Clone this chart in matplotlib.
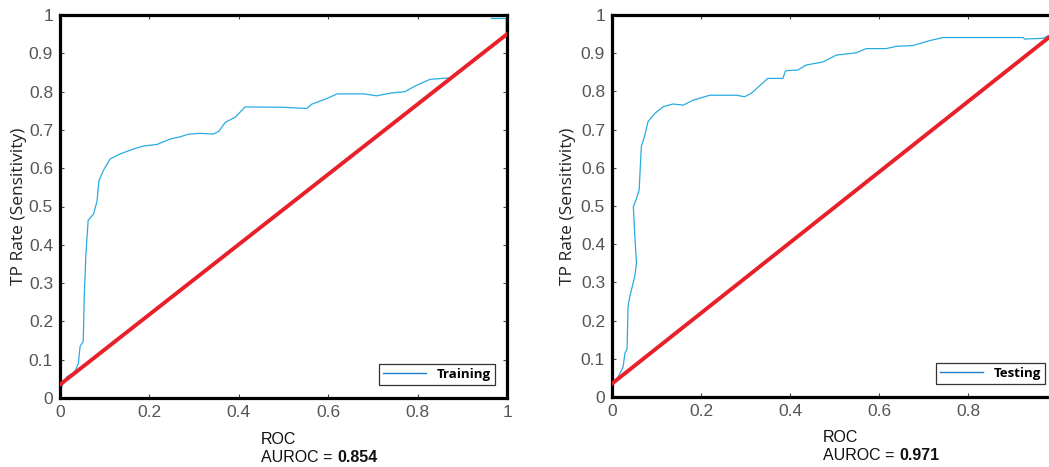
import matplotlib
matplotlib.use("Agg")
import matplotlib.pyplot as plt

# ---- data ----
train_fpr = [0.0, 0.004, 0.015, 0.033, 0.041, 0.045, 0.052, 0.053, 0.054, 0.058, 0.063, 0.075,
             0.083, 0.087, 0.097, 0.112, 0.134, 0.164, 0.187, 0.217, 0.246, 0.269, 0.288,
             0.314, 0.343, 0.355, 0.370, 0.392, 0.414, 0.500, 0.552, 0.563, 0.597, 0.620,
             0.680, 0.709, 0.739, 0.772, 0.795, 0.828, 0.873, 0.92, 0.96, 0.998, 0.998, 0.965]
train_tpr = [0.003, 0.030, 0.055, 0.068, 0.090, 0.135, 0.148, 0.200, 0.257, 0.377, 0.464, 0.480,
             0.515, 0.567, 0.594, 0.624, 0.637, 0.650, 0.658, 0.662, 0.676, 0.682, 0.689,
             0.691, 0.689, 0.696, 0.720, 0.733, 0.760, 0.759, 0.756, 0.767, 0.782, 0.794,
             0.794, 0.789, 0.796, 0.800, 0.815, 0.832, 0.836, 0.877, 0.913, 0.948, 0.991, 0.991]

test_fpr = [0.0, 0.014, 0.025, 0.029, 0.034, 0.036, 0.040, 0.051, 0.055, 0.051, 0.048, 0.054,
            0.061, 0.064, 0.066, 0.073, 0.081, 0.096, 0.115, 0.137, 0.160, 0.182, 0.220,
            0.280, 0.298, 0.313, 0.350, 0.384, 0.390, 0.418, 0.436, 0.474, 0.504, 0.549,
            0.571, 0.616, 0.639, 0.676, 0.714, 0.744, 0.924, 0.927, 0.969, 0.980]
test_tpr = [0.027, 0.053, 0.079, 0.114, 0.127, 0.236, 0.263, 0.315, 0.350, 0.428, 0.498, 0.516,
            0.542, 0.612, 0.656, 0.682, 0.721, 0.742, 0.760, 0.767, 0.764, 0.777, 0.790,
            0.790, 0.786, 0.795, 0.834, 0.834, 0.854, 0.856, 0.869, 0.877, 0.895, 0.901,
            0.912, 0.912, 0.918, 0.920, 0.933, 0.941, 0.941, 0.937, 0.939, 0.946]

train_diag_x = [0.0, 1.0]
train_diag_y = [0.035, 0.950]
test_diag_x = [0.0, 1.0]
test_diag_y = [0.035, 0.958]

xticks = [0, 0.2, 0.4, 0.6, 0.8, 1]
train_xtick_labels = ["0", "0.2", "0.4", "0.6", "0.8", "1"]
test_xtick_labels = ["0", "0.2", "0.4", "0.6", "0.8", ""]
yticks = [0, 0.1, 0.2, 0.3, 0.4, 0.5, 0.6, 0.7, 0.8, 0.9, 1]
ytick_labels = ["0", "0.1", "0.2", "0.3", "0.4", "0.5", "0.6", "0.7", "0.8", "0.9", "1"]

panels = [
    dict(fpr=train_fpr, tpr=train_tpr, dx=train_diag_x, dy=train_diag_y,
         label="Training", auroc="0.854", xl=train_xtick_labels),
    dict(fpr=test_fpr, tpr=test_tpr, dx=test_diag_x, dy=test_diag_y,
         label="Testing", auroc="0.971", xl=test_xtick_labels),
]

W, H = 1049, 467
fig = plt.figure(figsize=(W / 100, H / 100), dpi=100)
renderer = fig.canvas.get_renderer()

geoms = [(60, 507, 15, 398), (612, 1057, 15, 397)]
ylabel_x = [19, 568]
text_x = [261, 823]
text_y = [440, 437]

tick_font = ["Liberation Sans Narrow", "Liberation Sans", "DejaVu Sans"]
txt_font = ["Liberation Sans", "DejaVu Sans"]

for p, (l, r, t, b), ylx, tx, ty in zip(panels, geoms, ylabel_x, text_x, text_y):
    ax = fig.add_axes([l / W, 1 - b / H, (r - l) / W, (b - t) / H])
    ax.plot(p["fpr"], p["tpr"], color="#29ABE2", lw=0.9, label=p["label"], zorder=2)
    ax.plot(p["dx"], p["dy"], color="#E8202A", lw=2.8, zorder=3)
    ax.set_xlim(0, 1)
    ax.set_ylim(0, 1)
    ax.set_xticks(xticks)
    ax.set_xticklabels(p["xl"])
    ax.set_yticks(yticks)
    ax.set_yticklabels(ytick_labels)
    ax.tick_params(direction="in", length=3, width=0.8, color="#444444",
                   top=True, right=True, labelsize=12.5, labelcolor="#555555", pad=5)
    for lab in ax.get_xticklabels() + ax.get_yticklabels():
        lab.set_family(tick_font)
    for s in ax.spines.values():
        s.set_linewidth(2.3)
        s.set_color("black")
    fig.text(ylx / W, 1 - 206 / H, "TP Rate (Sensitivity)", rotation=90,
             ha="center", va="center", fontsize=12.5, color="#222222",
             family=["Open Sans", "DejaVu Sans"])
    leg = ax.legend(loc="lower right", bbox_to_anchor=(0.973, 0.034), borderaxespad=0,
                    fancybox=False, framealpha=1, edgecolor="#333333",
                    handlelength=3.3, handletextpad=0.8, borderpad=0.3,
                    prop=dict(family=["Open Sans", "DejaVu Sans"], weight="bold", size=9.5))
    leg.get_frame().set_linewidth(0.9)
    for line in leg.get_lines():
        line.set_color("#1F7FC9")
        line.set_linewidth(1.0)
    fig.text(tx / W, 1 - ty / H, "ROC", ha="left", va="center", fontsize=11.5,
             color="#111111", family=txt_font)
    t1 = fig.text(tx / W, 1 - (ty + 18) / H, "AUROC = ", ha="left", va="center",
                  fontsize=11.5, color="#111111", family=txt_font)
    bb = t1.get_window_extent(renderer=renderer)
    fig.text(bb.x1 / W, 1 - (ty + 18) / H, p["auroc"], ha="left", va="center",
             fontsize=11.5, color="#111111", weight="bold", family=txt_font)

fig.savefig("out.png", dpi=100)
